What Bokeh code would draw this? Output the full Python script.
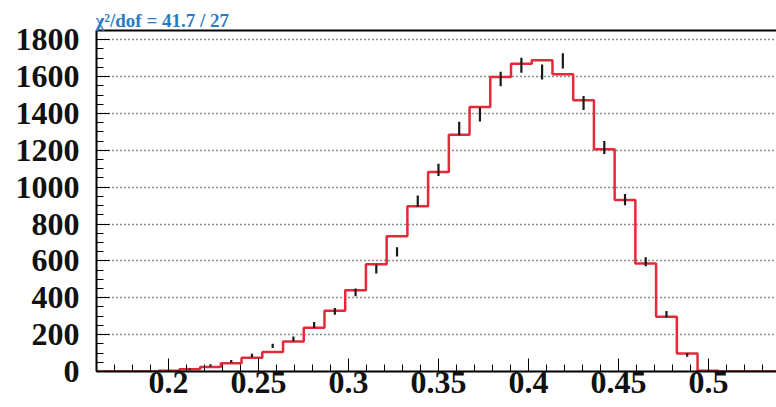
import numpy as np
from bokeh.plotting import figure
from bokeh.models import Range1d, SingleIntervalTicker, FixedTicker, LinearAxis
from bokeh.embed import file_html
from bokeh.resources import INLINE

# Histogram binning: 33 bins between 0.16 and 0.54
x_lo, x_hi, n_bins = 0.16, 0.54, 33
edges = np.linspace(x_lo, x_hi, n_bins + 1)
centers = 0.5 * (edges[:-1] + edges[1:])

# Fitted model (red step histogram), one value per bin
model = [0, 0, 0, 4, 12, 25, 45, 74, 106, 163, 237, 329, 441, 582, 734, 897,
         1083, 1284, 1435, 1598, 1670, 1688, 1612, 1471, 1206, 931, 586, 297,
         98, 4, 0, 0, 0]

# Measured counts and their errors (bins 3 .. 28)
data_bins = list(range(3, 29))
data = [3, 13, 33, 55, 87, 139, 176, 252, 326, 429, 555, 649, 924, 1094, 1318,
        1394, 1587, 1661, 1625, 1685, 1457, 1215, 933, 595, 310, 89]
data_err = [1.7, 3.6, 5.7, 7.4, 9.3, 11.8, 13.3, 15.9, 18.0, 20.7, 23.6, 25.5,
            30.4, 33.0, 36.3, 37.3, 39.8, 40.8, 40.3, 41.0, 38.2, 34.9, 30.5,
            24.4, 17.6, 9.4]

fit_text = "\u03c7\u00b2/dof = 41.7 / 27"

serif = "Liberation Serif"

p = figure(width=776, height=407,
           x_range=Range1d(0.16, 0.5378), y_range=Range1d(0, 1850),
           output_backend="svg", toolbar_location=None,
           min_border_left=96, min_border_top=30, min_border_right=0,
           min_border_bottom=36, outline_line_color=None,
           background_fill_color="white", border_fill_color="white")

# Fit quality shown as a left-aligned title
p.title.text = fit_text
p.title.align = "left"
p.title.standoff = 0
p.title.offset = -1
p.title.text_font = serif
p.title.text_font_style = "bold"
p.title.text_font_size = "19px"
p.title.text_color = "#2b7bc4"

# Axes
for ax in (p.xaxis[0], p.yaxis[0]):
    ax.axis_line_width = 2
    ax.axis_line_color = "black"
    ax.major_tick_line_color = "black"
    ax.minor_tick_line_color = "black"
    ax.major_tick_line_width = 1
    ax.minor_tick_line_width = 1
    ax.major_tick_out = 0
    ax.minor_tick_out = 0
    ax.major_tick_in = 13
    ax.minor_tick_in = 7
    ax.major_label_text_font = serif
    ax.major_label_text_font_style = "bold"
    ax.major_label_text_font_size = "32px"
    ax.major_label_text_color = "#111111"

p.xaxis[0].ticker = SingleIntervalTicker(interval=0.05, num_minor_ticks=5)
p.yaxis[0].ticker = SingleIntervalTicker(interval=200, num_minor_ticks=4)
p.xaxis[0].major_label_standoff = 0
p.yaxis[0].major_label_standoff = 17

# Top frame line (axis without ticks or labels)
top = LinearAxis(axis_line_width=2, axis_line_color="black",
                 ticker=FixedTicker(ticks=[]),
                 major_tick_line_color=None, minor_tick_line_color=None,
                 major_tick_out=0, minor_tick_out=0)
p.add_layout(top, "above")

# Dotted grid
for g in (p.xgrid[0], p.ygrid[0]):
    g.grid_line_color = "#000000"
    g.grid_line_alpha = 0.9
    g.grid_line_dash = "1 3"
    g.grid_line_width = 1.3
p.xgrid[0].ticker = p.xaxis[0].ticker
p.ygrid[0].ticker = p.yaxis[0].ticker

# Model as a step histogram
p.step(x=list(edges), y=model + [model[-1]], mode="after",
       line_color="#e6283b", line_width=2.5)

# Data error bars
xc = [centers[i] for i in data_bins]
p.segment(x0=xc, y0=[v - e for v, e in zip(data, data_err)],
          x1=xc, y1=[v + e for v, e in zip(data, data_err)],
          line_color="#1a1a1a", line_width=2.2)

open("out.html", "w").write(file_html(p, INLINE))
